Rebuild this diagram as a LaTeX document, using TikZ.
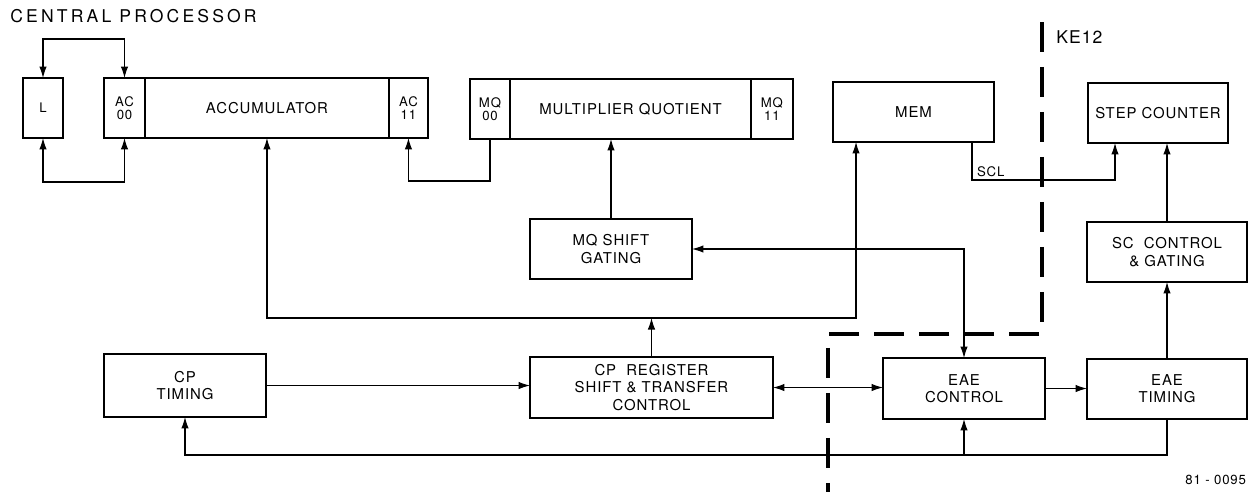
\documentclass[tikz,border=0pt]{standalone}
\usepackage{fontspec}
\setmainfont{TeX Gyre Heros}
\newfontfamily\titlefont[LetterSpace=18]{TeX Gyre Heros}
\newfontfamily\boxfont[LetterSpace=6]{TeX Gyre Heros}
\usetikzlibrary{arrows.meta,positioning}
\tikzset{
  blk/.style={draw=black, line width=1.1pt, outer sep=0pt, minimum width=3.24cm, minimum height=1.2cm, align=center, inner sep=1pt, font=\boxfont\fontsize{8.5}{9.8}\selectfont},
  reg/.style={blk, minimum width=0.8cm, font=\boxfont\fontsize{7.5}{7.3}\selectfont},
  flow/.style={-{Latex[length=2.3mm,width=1.5mm]}, line width=0.6pt, draw=black},
  both/.style={{Latex[length=2.3mm,width=1.5mm]}-{Latex[length=2.3mm,width=1.5mm]}, line width=0.6pt, draw=black},
  bound/.style={line width=2.3pt, dash pattern=on 0.6cm off 0.3cm},
  lbl/.style={font=\boxfont\fontsize{7.5}{8.5}\selectfont, inner sep=1pt}
}

\begin{document}
\begin{tikzpicture}[x=0.02cm, y=-0.02cm]
  \useasboundingbox (0,0) rectangle (1254,494);
  \node[anchor=west, inner sep=0pt, font=\titlefont\fontsize{10}{12}\selectfont] (title) at (10,16) {CENTRAL PROCESSOR};
  \node[anchor=west, inner sep=0pt, font=\boxfont\fontsize{10}{12}\selectfont] (ke) at (1056,37) {KE12};

  % accumulator and link
  \node[reg] (l) at (43,108) {L};
  \node[reg, minimum width=0.82cm] (ac0) at (124.5,108) {AC\\00};
  \node[blk, minimum width=4.88cm, right=0pt of ac0] (acc) {ACCUMULATOR};
  \node[reg, minimum width=0.78cm, right=0pt of acc] (ac11) {AC\\11};

  % multiplier quotient
  \node[reg] (mq0) at (490,109) {MQ\\00};
  \node[blk, minimum width=4.82cm, right=0pt of mq0] (mqm) {MULTIPLIER QUOTIENT};
  \node[reg, minimum width=0.84cm, right=0pt of mqm] (mq11) {MQ\\11};

  \node[blk, minimum width=3.22cm] (mem) at (913.5,112) {MEM};
  \node[blk, minimum width=2.8cm] (step) at (1158,113) {STEP COUNTER};

  \node[blk] (mqsg) at (611,249) {MQ SHIFT\\GATING};
  \node[blk, minimum width=3.2cm] (scg) at (1167,252) {SC\ \ CONTROL\\\& GATING};

  \node[blk, minimum height=1.26cm] (cptim) at (185,385.5) {CP\\TIMING};
  \node[blk, minimum width=4.86cm, minimum height=1.22cm] (cpreg) at (651.5,387.5) {CP\ \ REGISTER\\SHIFT \& TRANSFER\\CONTROL};
  \node[blk, minimum height=1.22cm] (eaec) at (964,388.5) {EAE\\CONTROL};
  \node[blk, minimum width=3.2cm] (eaet) at (1167,389) {EAE\\TIMING};

  \node[lbl, anchor=east] (dwg) at (1248,480) {81 - 0095};

  % bends
  \coordinate (ltop) at (43,39);
  \coordinate (lbot) at (43,182);
  \coordinate (mqbot) at (490,181);
  \coordinate (bus) at (651.5,318);
  \coordinate (sclend) at (1115,180);
  \coordinate (ret) at (964,455);

  \draw[both] (l.north) -- (ltop) -| (ac0.north);
  \draw[both] (l.south) -- (lbot) -| (ac0.south);
  \draw[flow] (mq0.south) -- (mqbot) -| (ac11.south);
  \draw[flow] (cpreg.north) -- (bus);
  \draw[both] (acc.south) |- (bus) -| ([xshift=0.46cm]mem.south west);
  \draw[flow] (mqsg.north) -- (mqsg.north |- mqm.south);
  \draw[both] (mqsg.east) -| (eaec.north);
  \draw[flow] (cptim.east) -- (cptim.east -| cpreg.west);
  \draw[both] (cpreg.east) -- (cpreg.east -| eaec.west);
  \draw[flow] (eaec.east) -- (eaec.east -| eaet.west);
  \draw[flow] (eaet.north) -- (scg.south);
  \draw[flow] (scg.north) -- (scg.north |- step.south);
  \draw[flow] ([xshift=-0.44cm]mem.south east) |- (sclend) -- (sclend |- step.south);
  \node[lbl, anchor=south west] (scl) at (975,179) {SCL};
  \draw[flow] (eaet.south) |- (ret) -| (cptim.south);
  \draw[flow] (ret) -- (eaec.south);

  % KE12 boundary
  \draw[bound] (1042,22) -- (1042,334) -- (828,334) -- (828,492);
\end{tikzpicture}
\end{document}
